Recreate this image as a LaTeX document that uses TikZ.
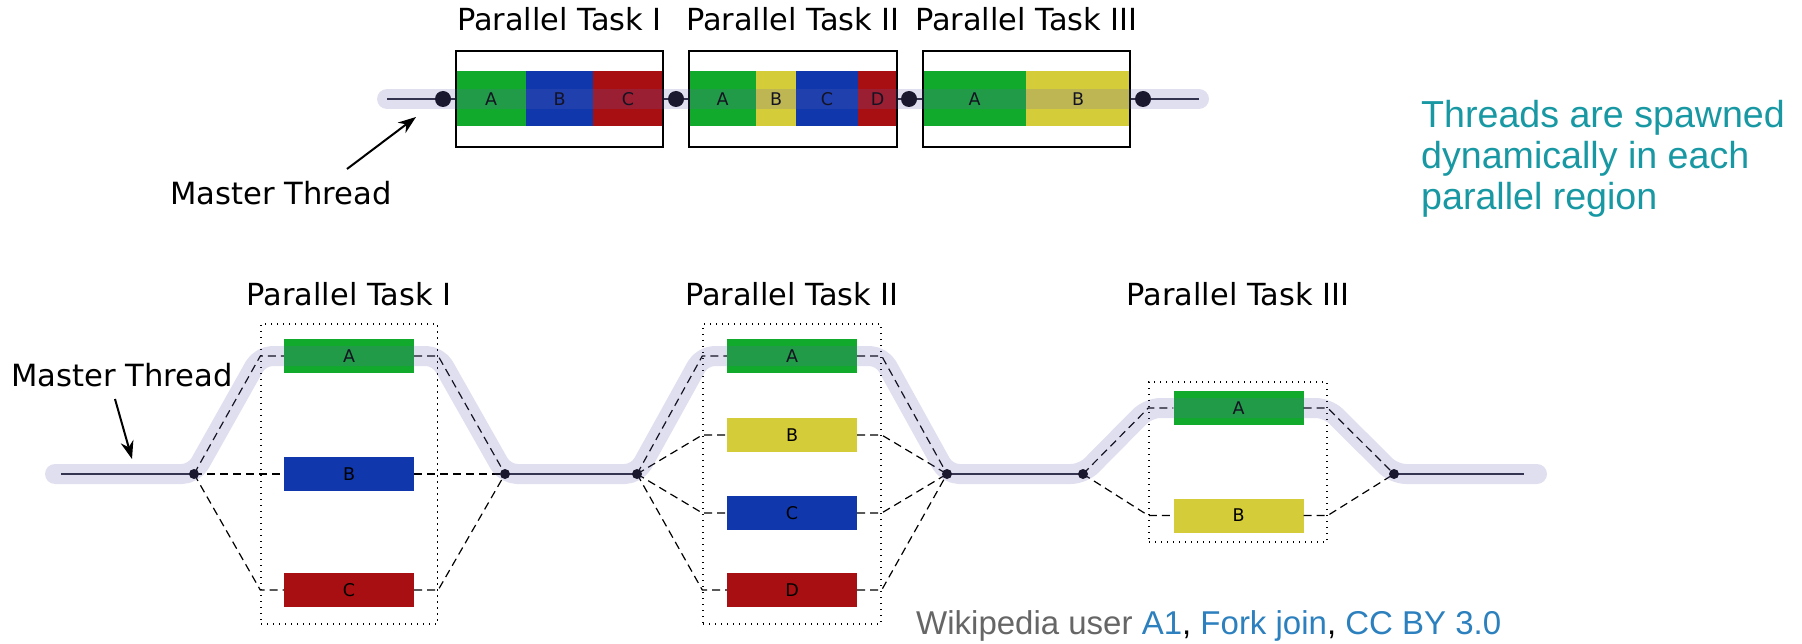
\documentclass[tikz,border=0pt]{standalone}
\usepackage{fontspec}
\setmainfont{DejaVu Sans}
\newfontfamily\lib{Liberation Sans}
\usetikzlibrary{arrows.meta}
\definecolor{tgreen}{RGB}{17,170,45}
\definecolor{tblue}{RGB}{16,56,172}
\definecolor{tred}{RGB}{168,15,18}
\definecolor{tyellow}{RGB}{213,204,58}
\definecolor{dotc}{RGB}{26,24,46}
\definecolor{linec}{RGB}{40,40,55}
\definecolor{glowc}{RGB}{100,96,180}
\definecolor{tealtext}{RGB}{23,152,163}
\definecolor{credgray}{RGB}{102,102,102}
\definecolor{credblue}{RGB}{44,128,190}
\begin{document}
\begin{tikzpicture}[x=1pt,y=-1pt,
  band/.style={inner sep=0pt, minimum height=55pt, font=\fontsize{17.5}{20}\selectfont, text=black},
  frame/.style={draw=black, line width=2pt, minimum height=96pt, inner sep=0pt},
  tdot/.style={circle, fill=dotc, inner sep=0pt, minimum size=16pt},
  bdot/.style={circle, fill=dotc, inner sep=0pt, minimum size=10pt},
  thread/.style={line width=2pt, draw=linec},
  glow/.style={line width=20pt, draw=glowc, draw opacity=0.2, line cap=round, line join=round, rounded corners=12pt},
  taskbox/.style={minimum width=130pt, minimum height=34pt, inner sep=0pt, font=\fontsize{17.5}{20}\selectfont, text=black},
  dashline/.style={draw=black, line width=1.2pt, dash pattern=on 8pt off 5pt},
  region/.style={draw=black, line width=1.4pt, dash pattern=on 1.4pt off 4.6pt, inner sep=0pt},
  title/.style={anchor=base, font=\fontsize{30.4}{35}\selectfont},
  arr/.style={-{Stealth[length=18pt,width=13pt]}, line width=2pt},
  note/.style={anchor=base west, font=\lib\fontsize{37.6}{43}\selectfont, text=tealtext, inner sep=0pt}
]
\useasboundingbox (0,0) rectangle (1802,644);

% ---------------- top diagram ----------------
\coordinate (ts) at (387,99);
\coordinate (te) at (1199,99);
\draw[thread] (ts) -- (te);

\node[band, fill=tgreen, minimum width=70pt] (p1a) at (491,99) {A};
\node[band, fill=tblue, minimum width=67pt] (p1b) at (559.5,99) {B};
\node[band, fill=tred, minimum width=70pt] (p1c) at (628,99) {C};
\node[band, fill=tgreen, minimum width=67pt] (p2a) at (722.5,99) {A};
\node[band, fill=tyellow, minimum width=40pt] (p2b) at (776,99) {B};
\node[band, fill=tblue, minimum width=62pt] (p2c) at (827,99) {C};
\node[band, fill=tred, minimum width=39pt] (p2d) at (877.5,99) {D};
\node[band, fill=tgreen, minimum width=103pt] (p3a) at (974.5,99) {A};
\node[band, fill=tyellow, minimum width=104pt] (p3b) at (1078,99) {B};

\node[frame, minimum width=207pt] (fr1) at (559.5,99) {};
\node[frame, minimum width=208pt] (fr2) at (793,99) {};
\node[frame, minimum width=207pt] (fr3) at (1026.5,99) {};

\draw[glow] (ts) -- (te);

\node[tdot] (t1) at (443,99) {};
\node[tdot] (t2) at (676,99) {};
\node[tdot] (t3) at (909,99) {};
\node[tdot] (t4) at (1143,99) {};

\node[title] (tt1) at (559.5,31) {Parallel Task I};
\node[title] (tt2) at (793,31) {Parallel Task II};
\node[title] (tt3) at (1026.5,31) {Parallel Task III};

\node[anchor=base west, font=\fontsize{30.6}{35}\selectfont, inner sep=0pt] (mt1) at (170,205) {Master Thread};
\coordinate (a1s) at (347,169);
\coordinate (a1t) at (416,117);
\draw[arr] (a1s) -- (a1t);

% ---------------- bottom diagram ----------------
\node[region, minimum width=176.5pt, minimum height=300pt] (r1) at (349.25,474) {};
\node[region, minimum width=178pt, minimum height=300pt] (r2) at (792,474) {};
\node[region, minimum width=178pt, minimum height=160pt] (r3) at (1238,462) {};

\coordinate (f1) at (194,474);
\coordinate (j1) at (505,474);
\coordinate (f2) at (637,474);
\coordinate (j2) at (947,474);
\coordinate (f3) at (1083,474);
\coordinate (j3) at (1394,474);

\node[taskbox, fill=tgreen] (b1a) at (349,356) {A};
\node[taskbox, fill=tblue] (b1b) at (349,474) {B};
\node[taskbox, fill=tred] (b1c) at (349,590) {C};
\node[taskbox, fill=tgreen] (b2a) at (792,356) {A};
\node[taskbox, fill=tyellow] (b2b) at (792,435) {B};
\node[taskbox, fill=tblue] (b2c) at (792,513) {C};
\node[taskbox, fill=tred] (b2d) at (792,590) {D};
\node[taskbox, fill=tgreen] (b3a) at (1238.5,408) {A};
\node[taskbox, fill=tyellow] (b3b) at (1238.5,515.5) {B};

\foreach \b in {b1a,b1b,b1c}{
  \draw[dashline] (f1) -- (\b.west -| r1.west) -- (\b.west);
  \draw[dashline] (\b.east) -- (\b.east -| r1.east) -- (j1);
}
\foreach \b in {b2a,b2b,b2c,b2d}{
  \draw[dashline] (f2) -- (\b.west -| r2.west) -- (\b.west);
  \draw[dashline] (\b.east) -- (\b.east -| r2.east) -- (j2);
}
\foreach \b in {b3a,b3b}{
  \draw[dashline] (f3) -- (\b.west -| r3.west) -- (\b.west);
  \draw[dashline] (\b.east) -- (\b.east -| r3.east) -- (j3);
}

\coordinate (ls) at (61,474);
\coordinate (le) at (1524,474);
\draw[line width=1.6pt, draw=linec] (ls) -- (f1) (j1) -- (f2) (j2) -- (f3) (j3) -- (le);

\coordinate (gs) at (55,474);
\coordinate (ge) at (1537,474);
\draw[glow] (gs) -- (f1) -- (b1a.west -| r1.west) -- (b1a.east -| r1.east) -- (j1)
  -- (f2) -- (b2a.west -| r2.west) -- (b2a.east -| r2.east) -- (j2)
  -- (f3) -- (b3a.west -| r3.west) -- (b3a.east -| r3.east) -- (j3) -- (ge);

\foreach \p in {f1,j1,f2,j2,f3,j3}{ \node[bdot] (d\p) at (\p) {}; }

\node[title] (bt1) at (349,306) {Parallel Task I};
\node[title] (bt2) at (792,306) {Parallel Task II};
\node[title] (bt3) at (1238,306) {Parallel Task III};

\node[anchor=base west, font=\fontsize{30.6}{35}\selectfont, inner sep=0pt] (mt2) at (11,386) {Master Thread};
\coordinate (a2s) at (115,399);
\coordinate (a2t) at (132,459);
\draw[arr] (a2s) -- (a2t);

% ---------------- texts ----------------
\node[note] (n1) at (1421,128) {Threads are spawned};
\node[note] (n2) at (1421,169) {dynamically in each};
\node[note] (n3) at (1421,210) {parallel region};

\node[anchor=base west, inner sep=0pt, font=\lib\fontsize{33}{38}\selectfont] (cred) at (916,634)
  {\textcolor{credgray}{Wikipedia user }\textcolor{credblue}{A1}, \textcolor{credblue}{Fork join}, \textcolor{credblue}{CC BY 3.0}};
\end{tikzpicture}
\end{document}
